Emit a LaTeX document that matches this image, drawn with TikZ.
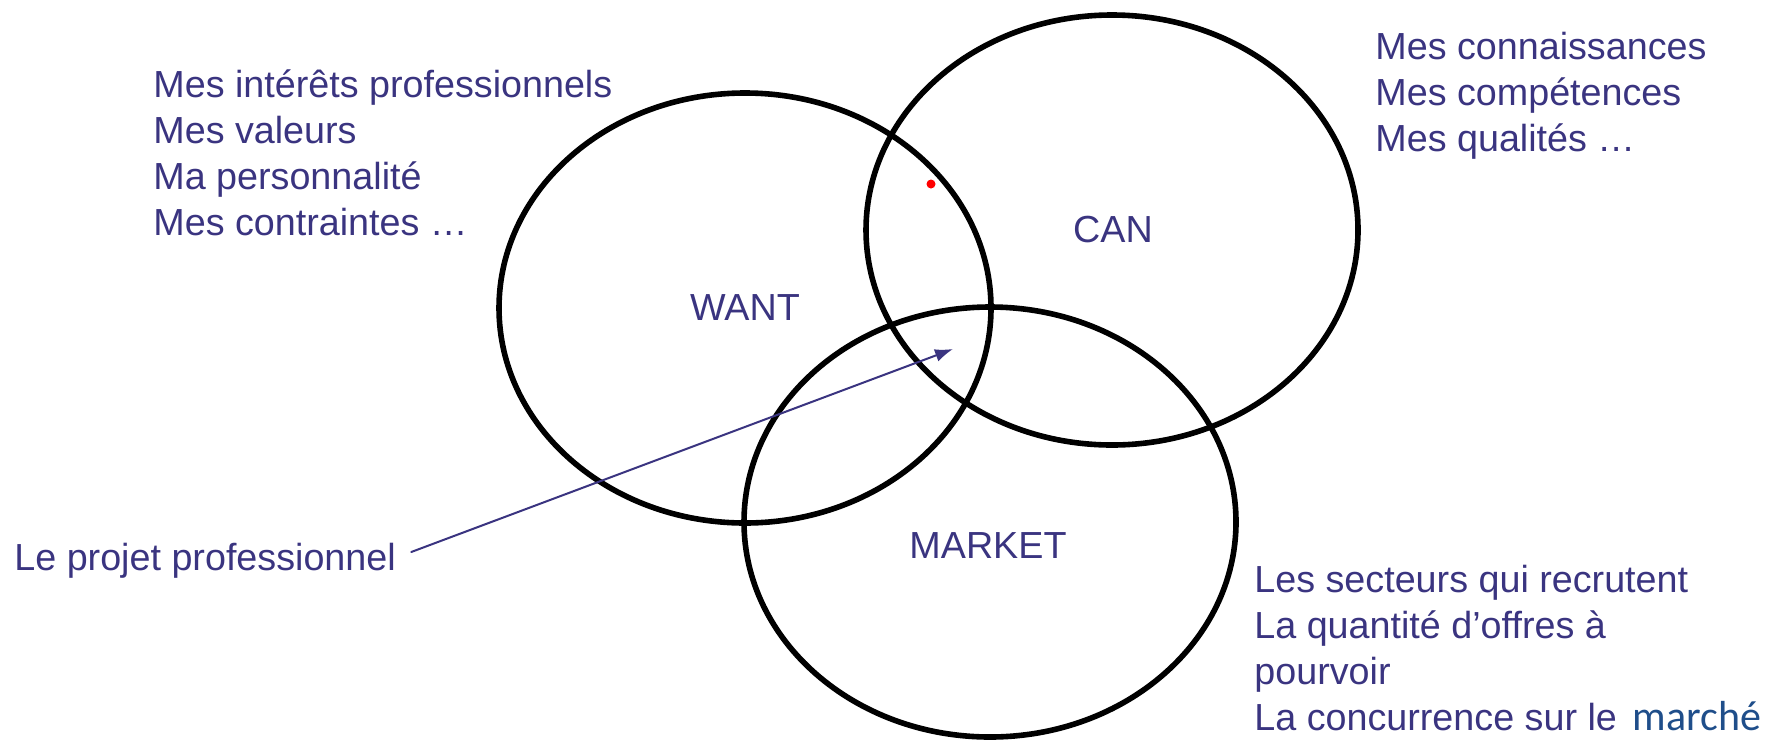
\documentclass[tikz,border=0pt]{standalone}
\usepackage{fontspec}
\setmainfont{Liberation Sans}
\newfontfamily\calibri{Carlito}
\usetikzlibrary{calc}
\usetikzlibrary{shapes.geometric,arrows.meta}
\definecolor{encre}{RGB}{58,52,128}
\definecolor{bleu}{RGB}{31,78,138}

\begin{document}
\begin{tikzpicture}[x=0.5pt,y=-0.5pt,line cap=round] %% 1 unit = 1 px
	\tikzstyle{quan}=[ellipse,draw,line width=2.8pt,inner sep=0pt,minimum width=246pt,minimum height=215pt];
	\tikzstyle{wen}=[text=encre,inner sep=0pt,font=\fontsize{18.85}{23}\selectfont];
	\tikzstyle{liste}=[wen,anchor=base west,align=left]; % base = last line
	\tikzstyle{dian}=[circle,fill=red,inner sep=0pt,minimum size=4.5pt];
	\useasboundingbox (0,0) rectangle (1775,740);
	%% circles
	\node[quan] (want) at (745,308) {};
	\node[quan] (can) at (1112,230) {};
	\node[quan] (market) at (990,522) {};
	\node[wen] (twant) at (want.center) {WANT};
	\node[wen] (tcan) at (1113,230) {CAN};
	\node[wen] (tmarket) at (988,546) {MARKET};
	\node[dian] (point) at (931,184) {};
	%% lists
	\node[liste] (veux) at (153,235) {Mes intérêts professionnels\\Mes valeurs\\Ma personnalité\\Mes contraintes \dots};
	\node[liste] (peux) at (1375,151) {Mes connaissances\\Mes compétences\\Mes qualités \dots};
	\node[liste] (marche) at (1254,730) {Les secteurs qui recrutent\\La quantité d’offres à\\pourvoir\\La concurrence sur le\hspace{8pt}{\calibri\fontsize{21}{23}\selectfont\color{bleu}marché}};
	%% arrow
	\node[wen,anchor=base west] (projet) at (14,570) {Le projet professionnel};
	\coordinate (depart) at ($(projet.base east)+(15,-18)$);
	\coordinate (cible) at (953,349);
	\draw[encre,line width=1pt,-{Latex[length=9pt,width=6.5pt]}] (depart) -- (cible);
\end{tikzpicture}
\end{document}
